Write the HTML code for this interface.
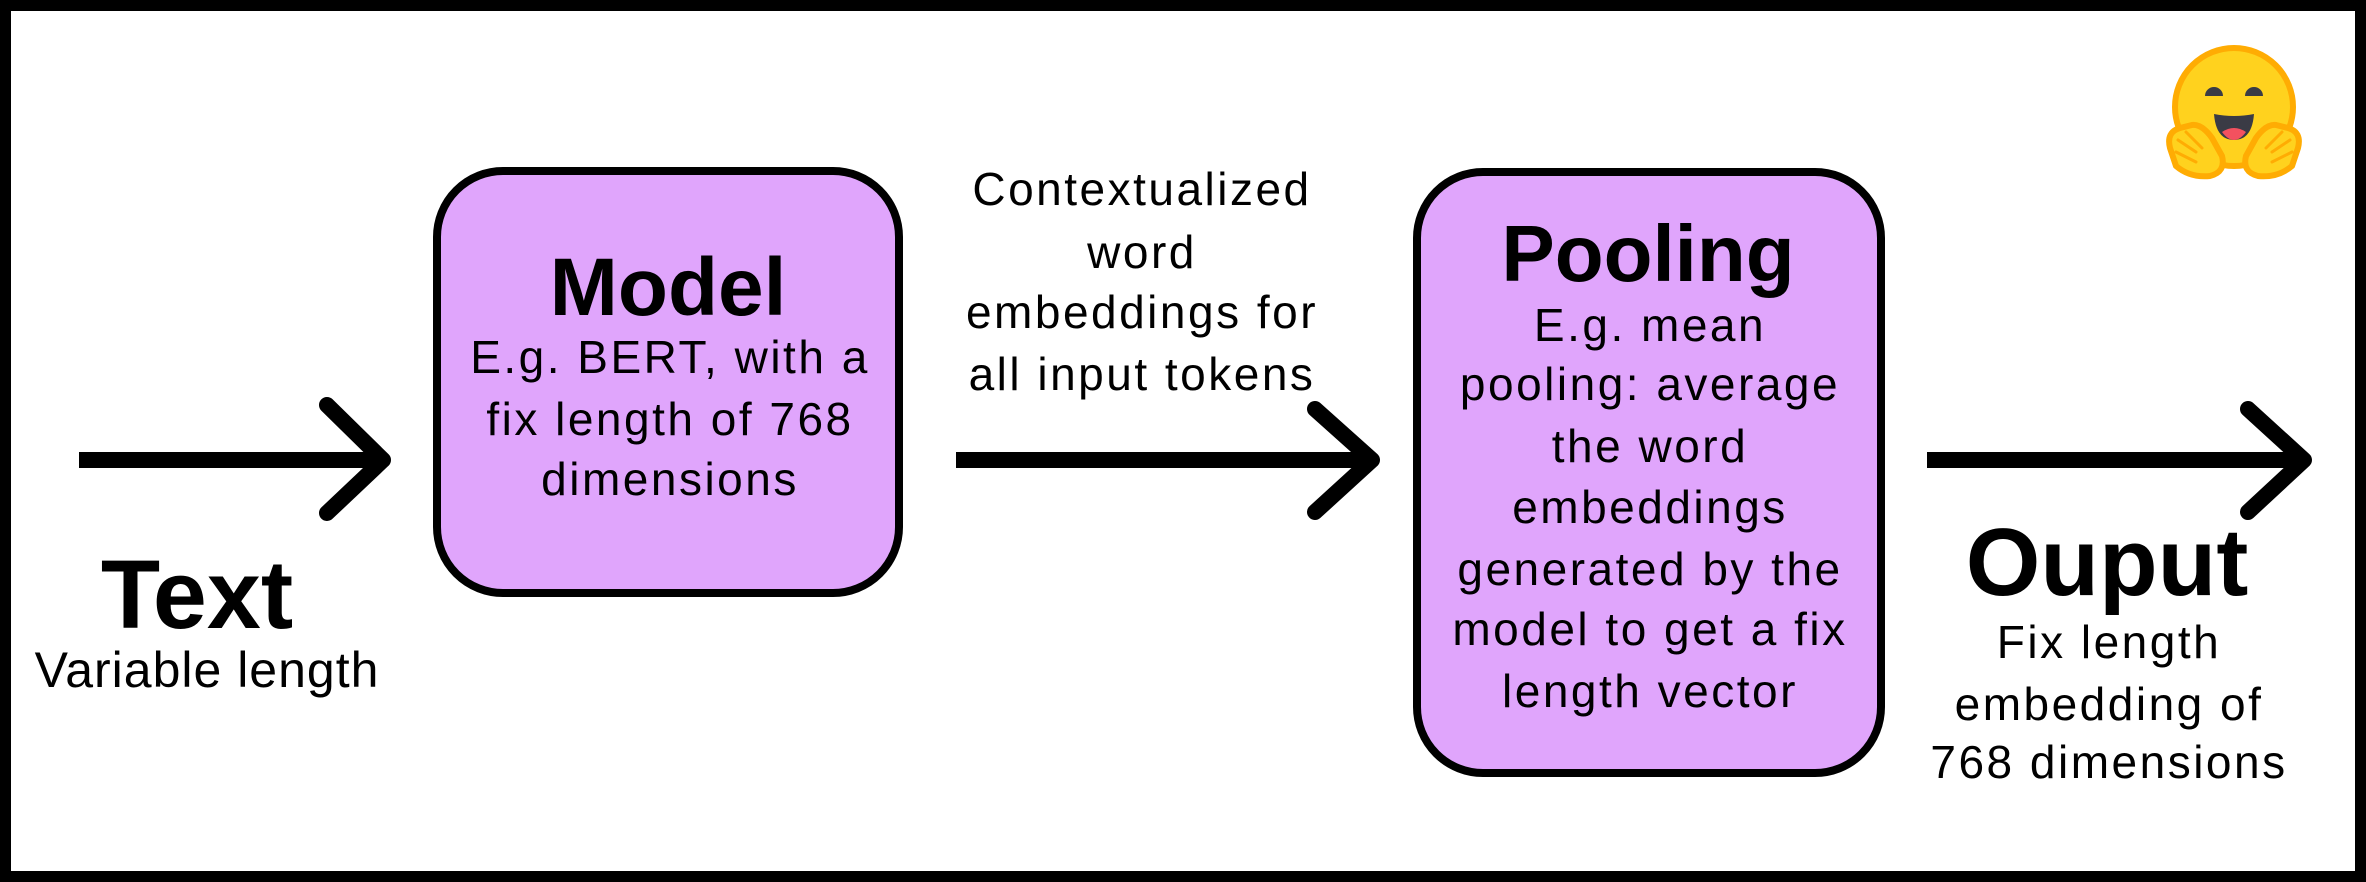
<!DOCTYPE html>
<html><head><meta charset="utf-8"><style>
html,body{margin:0;padding:0;background:#fff;}
svg{display:block;}
text{font-family:"Liberation Sans",Arial,sans-serif;fill:#000;}
.t{font-weight:bold;}
.s{font-size:46px;letter-spacing:2.5px;}
</style></head><body>
<svg width="2366" height="882" viewBox="0 0 2366 882" xmlns="http://www.w3.org/2000/svg">
<rect x="5.5" y="5.5" width="2355" height="871" fill="#fff" stroke="#000" stroke-width="11"/>
<rect x="437" y="171" width="462" height="422" rx="66" fill="#E0A5FC" stroke="#000" stroke-width="8"/>
<rect x="1417" y="172" width="464" height="601" rx="66" fill="#E0A5FC" stroke="#000" stroke-width="8"/>
<g stroke="#000" stroke-width="16" fill="none" stroke-linejoin="round">
<line x1="79" y1="460" x2="380" y2="460"/>
<polyline points="327,405 383,460 327,513" stroke-linecap="round"/>
<line x1="956" y1="460" x2="1368" y2="460"/>
<polyline points="1315,409 1372,460 1315,512" stroke-linecap="round"/>
<line x1="1927" y1="460" x2="2300" y2="460"/>
<polyline points="2248,409 2304,460 2248,512" stroke-linecap="round"/>
</g>
<text class="t" x="197" y="628" font-size="97" text-anchor="middle">Text</text>
<text x="207" y="687" font-size="50" text-anchor="middle" letter-spacing="1">Variable length</text>
<text class="t" x="668" y="315" font-size="82" text-anchor="middle">Model</text>
<text class="s" x="670" y="373" text-anchor="middle">E.g. BERT, with a</text>
<text class="s" x="670" y="435" text-anchor="middle">fix length of 768</text>
<text class="s" x="670" y="495" text-anchor="middle">dimensions</text>
<text class="s" x="1142" y="205" text-anchor="middle">Contextualized</text>
<text class="s" x="1142" y="268" text-anchor="middle">word</text>
<text class="s" x="1142" y="328" text-anchor="middle">embeddings for</text>
<text class="s" x="1142" y="390" text-anchor="middle">all input tokens</text>
<text class="t" x="1648" y="281" font-size="80" text-anchor="middle">Pooling</text>
<text class="s" x="1650" y="341" text-anchor="middle">E.g. mean</text>
<text class="s" x="1650" y="400" text-anchor="middle">pooling: average</text>
<text class="s" x="1650" y="462" text-anchor="middle">the word</text>
<text class="s" x="1650" y="523" text-anchor="middle">embeddings</text>
<text class="s" x="1650" y="585" text-anchor="middle">generated by the</text>
<text class="s" x="1650" y="645" text-anchor="middle">model to get a fix</text>
<text class="s" x="1650" y="707" text-anchor="middle">length vector</text>
<text class="t" x="2107" y="595" font-size="96" text-anchor="middle">Ouput</text>
<text class="s" x="2109" y="658" text-anchor="middle">Fix length</text>
<text class="s" x="2109" y="720" text-anchor="middle">embedding of</text>
<text class="s" x="2109" y="778" text-anchor="middle">768 dimensions</text>
<g>
<circle cx="2234" cy="107" r="59" fill="#FFD21E" stroke="#FFAC03" stroke-width="6"/>
<path d="M2207,96 a7,7 0 0 1 14,0" fill="#3A3B45" stroke="#3A3B45" stroke-width="4"/>
<path d="M2247,96 a7,7 0 0 1 14,0" fill="#3A3B45" stroke="#3A3B45" stroke-width="4"/>
<path d="M2214,114 Q2234,118 2254,114 Q2252,140 2234,140 Q2216,140 2214,114 Z" fill="#3A3B45"/>
<path d="M2222,132 Q2234,124 2246,132 Q2240,140 2234,140 Q2228,140 2222,132 Z" fill="#F3515F"/>
<path d="M2170,148 Q2166,132 2180,128 L2192,125 Q2202,124 2212,138 L2222,156 Q2226,172 2210,176 Q2190,178 2176,166 Z" fill="#FFD21E" stroke="#FFAC03" stroke-width="6" stroke-linejoin="round"/>
<path d="M2298,148 Q2302,132 2288,128 L2276,125 Q2266,124 2256,138 L2246,156 Q2242,172 2258,176 Q2278,178 2292,166 Z" fill="#FFD21E" stroke="#FFAC03" stroke-width="6" stroke-linejoin="round"/>
<g stroke="#FFAC03" stroke-width="3" fill="none" stroke-linecap="round">
<path d="M2178,140 L2196,152 M2176,152 L2196,162 M2186,132 L2202,148"/>
<path d="M2290,140 L2272,152 M2292,152 L2272,162 M2282,132 L2266,148"/>
</g>
</g>
</svg>
</body></html>
